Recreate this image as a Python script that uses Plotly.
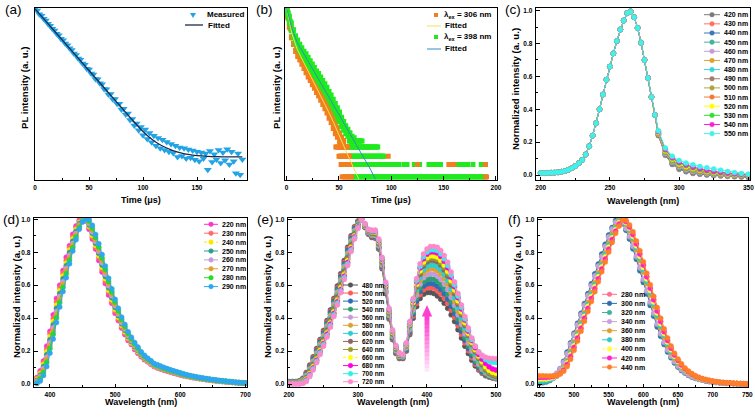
import numpy as np
import plotly.graph_objects as go

W, H = 755, 419
FONT = "Liberation Sans"

# ================= DATA =================
# (a) PL decay, measured and fitted (normalised log-intensity, arbitrary units)
a_t = list(range(0, 193, 2))
a_measured = [1.0, 0.99, 0.968, 0.96, 0.942, 0.932, 0.913, 0.902, 0.884, 0.874, 0.855, 0.846, 0.826, 0.817,
              0.797, 0.788, 0.77, 0.759, 0.739, 0.731, 0.71, 0.703, 0.681, 0.673, 0.65, 0.645, 0.622, 0.616,
              0.59, 0.588, 0.565, 0.56, 0.532, 0.53, 0.5, 0.503, 0.472, 0.474, 0.445, 0.446, 0.412, 0.416,
              0.383, 0.388, 0.35, 0.356, 0.318, 0.33, 0.29, 0.31, 0.262, 0.295, 0.24, 0.275, 0.22, 0.258,
              0.2, 0.245, 0.185, 0.235, 0.175, 0.222, 0.165, 0.21, 0.158, 0.2, 0.135, 0.19, 0.14, 0.185,
              0.125, 0.178, 0.13, 0.172, 0.118, 0.165, 0.11, 0.16, 0.125, 0.155, 0.06, 0.17, 0.105, 0.15,
              0.12, 0.175, 0.1, 0.16, 0.115, 0.18, 0.09, 0.165, 0.11, 0.04, 0.155, 0.03, 0.12]
a_fit_t = [0, 10, 20, 30, 40, 50, 60, 70, 80, 85, 90, 95, 100, 105, 110, 115, 120, 125, 130, 135, 140,
           145, 150, 160, 170, 180, 192]
a_fit = [1.0, 0.928, 0.856, 0.784, 0.712, 0.64, 0.568, 0.496, 0.424, 0.388, 0.352, 0.317, 0.283, 0.254,
         0.229, 0.209, 0.193, 0.179, 0.167, 0.158, 0.151, 0.146, 0.142, 0.138, 0.136, 0.135, 0.135]

# (b) PL decays at two excitation wavelengths
b_t306 = list(range(0, 55))
b_y306 = [0.99, 0.95, 0.94, 0.89, 0.88, 0.83, 0.83, 0.79, 0.79, 0.75, 0.76, 0.72, 0.735, 0.70, 0.71, 0.675,
          0.69, 0.65, 0.665, 0.625, 0.64, 0.60, 0.62, 0.58, 0.60, 0.555, 0.575, 0.535, 0.555, 0.51, 0.535,
          0.49, 0.51, 0.465, 0.49, 0.44, 0.465, 0.415, 0.44, 0.39, 0.415, 0.36, 0.39, 0.335, 0.36, 0.30,
          0.33, 0.27, 0.30, 0.25, 0.27, 0.225, 0.245, 0.19, 0.225]
b_t398 = list(range(0, 65))
b_y398 = [0.99, 0.97, 0.95, 0.92, 0.91, 0.87, 0.87, 0.83, 0.835, 0.80, 0.81, 0.775, 0.785, 0.75, 0.765,
          0.73, 0.745, 0.71, 0.73, 0.69, 0.71, 0.67, 0.69, 0.65, 0.67, 0.63, 0.65, 0.61, 0.63, 0.59, 0.615,
          0.57, 0.595, 0.55, 0.575, 0.53, 0.555, 0.51, 0.535, 0.49, 0.51, 0.465, 0.49, 0.44, 0.465, 0.415,
          0.44, 0.39, 0.415, 0.36, 0.39, 0.34, 0.36, 0.31, 0.335, 0.29, 0.31, 0.27, 0.29, 0.255, 0.27,
          0.235, 0.25, 0.225, 0.24]
# low-count rows: (level, [(t_start, t_end), ...])
b_rows306 = [(0.19, [(47, 58)]), (0.135, [(50, 60), (97, 97)]),
             (0.088, [(52, 61), (125, 125), (155, 160), (190, 190)]), (0.014, [(53, 62), (190, 191)])]
b_rows398 = [(0.225, [(60, 72)]), (0.19, [(58, 82), (84, 87)]), (0.135, [(58, 93)]),
             (0.088, [(56, 107), (112, 115), (122, 127), (136, 147), (157, 166), (170, 173), (178, 178),
                      (186, 190)]),
             (0.014, [(62, 190)])]
b_fit306_t = [0, 2, 5, 10, 15, 20, 25, 30, 35, 40, 45, 50, 55, 60, 65, 69]
b_fit306 = [1.0, 0.93, 0.85, 0.76, 0.70, 0.64, 0.58, 0.52, 0.46, 0.395, 0.33, 0.265, 0.19, 0.12, 0.055, 0.0]
b_fit398_t = [0, 2, 5, 10, 15, 20, 30, 40, 50, 60, 70, 80, 85]
b_fit398 = [1.0, 0.95, 0.88, 0.80, 0.745, 0.695, 0.59, 0.485, 0.38, 0.275, 0.17, 0.06, 0.0]

# (c) excitation spectra (percent), shared peak body + series-specific tails
c_x_body = list(np.arange(200, 283, 2.5))
c_body = [1.2, 1.2, 1.3, 1.4, 1.5, 1.7, 2, 2.5, 3.2, 4.2, 5.5, 7.2, 9.2, 12.5, 17.5, 24, 31.5, 40, 49, 58,
          66, 74, 81.5, 88.5, 94, 98.5, 99.5, 96, 89.5, 80.5, 70, 59, 47.5, 36.5]
c_x_tail = list(range(285, 351, 5))
c_labels = ["420 nm", "430 nm", "440 nm", "450 nm", "460 nm", "470 nm", "480 nm", "490 nm", "500 nm",
            "510 nm", "520 nm", "530 nm", "540 nm", "550 nm"]
c_tails = [
    [24, 12, 6.5, 3.5, 2, 1, 0.5, 0, -0.3, -0.5, -0.8, -1, -1.2, -1.5],
    [24.5, 12.5, 7, 4, 2.3, 1.3, 0.7, 0.3, 0, -0.2, -0.5, -0.7, -0.9, -1.1],
    [24.5, 12.8, 7.3, 4.3, 2.6, 1.6, 1, 0.5, 0.2, 0, -0.2, -0.4, -0.6, -0.8],
    [25, 13, 7.6, 4.6, 2.9, 1.9, 1.2, 0.7, 0.4, 0.2, 0, -0.2, -0.4, -0.5],
    [25, 13.2, 7.9, 5, 3.3, 2.2, 1.5, 1, 0.6, 0.3, 0.1, 0, -0.2, -0.3],
    [25, 13.5, 8.2, 5.3, 3.6, 2.5, 1.7, 1.1, 0.7, 0.4, 0.2, 0, -0.1, -0.2],
    [25.5, 13.7, 8.5, 5.6, 3.9, 2.8, 2, 1.4, 0.9, 0.6, 0.3, 0.1, 0, -0.1],
    [25.5, 14, 8.8, 5.9, 4.2, 3, 2.2, 1.6, 1.1, 0.7, 0.4, 0.2, 0.1, 0],
    [25.5, 14.2, 9.1, 6.2, 4.5, 3.3, 2.4, 1.8, 1.3, 0.9, 0.6, 0.3, 0.1, 0],
    [26, 14.5, 9.4, 6.5, 4.8, 3.6, 2.7, 2, 1.4, 1, 0.7, 0.4, 0.2, 0.1],
    [26, 14.8, 9.8, 6.8, 5.1, 3.9, 3, 2.2, 1.6, 1.1, 0.7, 0.4, 0.2, 0.1],
    [26.5, 15.2, 10.2, 7.3, 5.6, 4.3, 3.3, 2.5, 1.8, 1.3, 0.9, 0.6, 0.3, 0.1],
    [26.5, 15.7, 10.7, 7.8, 6.2, 4.9, 3.9, 3, 2.3, 1.7, 1.2, 0.8, 0.5, 0.2],
    [27, 16.5, 11.5, 8.8, 7.3, 6.2, 5.2, 4.5, 3.7, 3, 2.2, 1.5, 1, 0.5],
]
c_colors = ["#7a7a7a", "#ff7160", "#3b78b8", "#46b39c", "#c69bd9", "#e0a12c", "#36d6e0", "#a27d74",
            "#b3a443", "#f07a34", "#ffff00", "#2fe02f", "#ff20cf", "#3ff2ea"]

# (d) emission spectra (percent)
d_x = list(range(380, 701, 5))
d_labels = ["220 nm", "230 nm", "240 nm", "250 nm", "260 nm", "270 nm", "280 nm", "290 nm"]
d_series = [
    [4, 8, 14, 23, 32, 42, 52, 60, 69, 77, 84, 91, 96, 99.5, 100, 99, 94, 88, 82, 75, 68, 61, 54, 49, 43,
     38.5, 34, 30, 26.5, 24, 21, 18.7, 16.6, 14.8, 13.5, 12, 10.6,
     9.8, 9.1, 8.4, 7.8, 7.2, 6.6, 6.1, 5.5, 5.0, 4.6, 4.2, 3.8, 3.5, 3.2, 2.9, 2.6, 2.4, 2.1, 1.9, 1.7,
     1.5, 1.3, 1.1, 1.0, 0.8, 0.7, 0.5, 0.4],
    [3.5, 7, 13, 21, 30.5, 39.8, 49.8, 58.5, 67.3, 75, 82.8, 89.3, 94.8, 98.9, 100, 99.4, 95, 89.3, 83,
     76.8, 69.5, 62.5, 55.8, 50, 44.3, 39.5, 34.8, 31, 27.3, 24.5, 21.6, 19.3, 17, 15.1, 13.8, 12.3, 10.9,
     10.1, 9.4, 8.7, 8.0, 7.4, 6.8, 6.3, 5.7, 5.2, 4.8, 4.4, 4.0, 3.6, 3.3, 3.0, 2.7, 2.5, 2.2, 2.0, 1.8,
     1.6, 1.4, 1.2, 1.0, 0.9, 0.7, 0.6, 0.5],
    [2.9, 6.2, 11.8, 19.4, 28.7, 37.9, 47.9, 56.7, 65.6, 73.4, 81.3, 88, 93.7, 98.1, 100, 99.6, 95.8, 90.4,
     84.2, 78, 70.9, 63.9, 57, 51.2, 45.4, 40.5, 35.7, 31.8, 28, 25.1, 22.2, 19.8, 17.4, 15.5, 14.1, 12.6,
     11.1, 10.4, 9.6, 8.9, 8.2, 7.6, 7.0, 6.4, 5.9, 5.4, 4.9, 4.5, 4.1, 3.7, 3.4, 3.1, 2.8, 2.5, 2.3, 2.0,
     1.8, 1.6, 1.4, 1.2, 1.1, 0.9, 0.8, 0.6, 0.5],
    [2.3, 5.4, 10.6, 17.8, 26.9, 36, 46, 54.9, 63.9, 71.8, 79.8, 86.7, 92.6, 97.4, 99.7, 100, 96.6, 91.5,
     85.4, 79.4, 72.3, 65.3, 58.4, 52.4, 46.5, 41.5, 36.6, 32.6, 28.7, 25.7, 22.7, 20.3, 17.8, 15.8, 14.4,
     12.9, 11.4, 10.6, 9.8, 9.1, 8.4, 7.8, 7.2, 6.6, 6.0, 5.5, 5.0, 4.6, 4.2, 3.8, 3.5, 3.2, 2.9, 2.6, 2.4,
     2.1, 1.9, 1.7, 1.5, 1.3, 1.1, 0.9, 0.8, 0.6, 0.5],
    [1.7, 4.6, 9.4, 16.2, 25.1, 34, 44, 53.1, 62.1, 70.2, 78.2, 85.3, 91.4, 96.6, 99.3, 100, 97.4, 92.5,
     86.6, 80.6, 73.7, 66.7, 59.6, 53.6, 47.5, 42.5, 37.4, 33.4, 29.3, 26.3, 23.3, 20.7, 18.2, 16.2, 14.6,
     13.1, 11.6, 10.8, 10.0, 9.3, 8.6, 7.9, 7.3, 6.7, 6.1, 5.6, 5.1, 4.7, 4.3, 3.9, 3.6, 3.3, 3.0, 2.7,
     2.4, 2.2, 1.9, 1.7, 1.5, 1.3, 1.1, 1.0, 0.8, 0.7, 0.5],
    [1.1, 3.8, 8.2, 14.6, 23.3, 32.1, 42.1, 51.3, 60.4, 68.6, 76.7, 84, 90.4, 95.9, 99, 100, 98.2, 93.6,
     87.8, 82, 75.1, 68.1, 61, 54.8, 48.6, 43.5, 38.4, 34.2, 30, 26.9, 23.8, 21.3, 18.6, 16.5, 15, 13.5,
     11.9, 11.1, 10.2, 9.5, 8.8, 8.1, 7.5, 6.9, 6.3, 5.8, 5.3, 4.8, 4.4, 4.0, 3.7, 3.4, 3.1, 2.8, 2.5, 2.3,
     2.0, 1.8, 1.6, 1.4, 1.2, 1.0, 0.9, 0.7, 0.6],
    [0.5, 3, 7, 13, 21.5, 30.2, 40.2, 49.5, 58.7, 67, 75.2, 82.7, 89.2, 95.1, 98.7, 100, 99, 94.7, 89, 83.2,
     76.5, 69.5, 62.3, 56, 49.8, 44.5, 39.3, 35, 30.8, 27.5, 24.4, 21.8, 19, 16.9, 15.3, 13.8, 12.1,
     11.3, 10.5, 9.7, 9.0, 8.3, 7.7, 7.1, 6.5, 5.9, 5.4, 5.0, 4.5, 4.1, 3.8, 3.5, 3.2, 2.9, 2.6, 2.3, 2.1,
     1.9, 1.7, 1.5, 1.3, 1.1, 0.9, 0.8, 0.6],
    [0.5, 1.8, 5.2, 10.6, 18.8, 27.4, 37.4, 46.8, 56.2, 64.6, 73, 80.8, 87.6, 94, 98.3, 99.7, 100, 96.4,
     90.8, 85.2, 78.6, 71.6, 64.2, 57.8, 51.4, 46, 40.6, 36.2, 31.8, 28.4, 25.2, 22.5, 19.6, 17.4, 15.7,
     14.2, 12.5, 11.7, 10.9, 10.1, 9.4, 8.7, 8.0, 7.4, 6.8, 6.2, 5.7, 5.2, 4.8, 4.4, 4.0, 3.6, 3.3, 3.0,
     2.7, 2.5, 2.2, 2.0, 1.8, 1.5, 1.3, 1.1, 1.0, 0.8, 0.7],
]
d_colors = ["#ff33cc", "#ff6a6a", "#ffe600", "#2e9e8a", "#c59ddf", "#e0a030", "#22dd22", "#2ea6f0"]
d_dash = ["solid", "solid", "dot", "solid", "solid", "solid", "dash", "solid"]

# (e) excitation spectra (percent)
e_x = list(range(200, 501, 5))
e_labels = ["480 nm", "500 nm", "520 nm", "540 nm", "560 nm", "580 nm", "600 nm", "620 nm", "640 nm",
            "660 nm", "680 nm", "700 nm", "720 nm"]
e_series = [
    [1.5, 1.5, 1.5, 2, 3.5, 7, 11.5, 16.5, 21.5, 27, 32.5, 38.5, 45, 52, 59.5, 67, 75, 83, 90, 95.5, 99, 100,
     95, 91, 89, 88.5, 82, 70, 55, 39.5, 27, 18.5, 15.5,
     15.5, 20, 30, 40, 47, 52, 54.5, 55.5, 55.5, 55, 53.5, 51.5, 49, 46, 42, 38, 33, 28, 23, 18.5, 14.5,
     11, 8.5, 6.5, 5, 4.2, 3.6, 3.2],
    [1.4, 1.4, 1.4, 1.8, 3.2, 6.5, 10.9, 15.8, 20.8, 26.3, 31.7, 37.7, 44.1, 51.1, 58.5, 66, 74, 82.1, 89.2,
     94.9, 98.6, 100, 95.2, 91.3, 89.4, 88.9, 82.5, 70.6, 55.6, 40, 27.5, 18.9, 15.8,
     15.8, 20.6, 30.9, 41.3, 48.9, 54.3, 57.2, 58.4, 58.6, 58.1, 56.7, 54.7, 52.2, 49.1, 44.9, 40.6, 35.4,
     30.2, 25, 20.2, 16, 12, 9, 7, 5.5, 4.5, 3.8, 3.3],
    [1.3, 1.3, 1.3, 1.7, 3, 6.1, 10.3, 15.2, 20.1, 25.5, 30.9, 36.8, 43.3, 50.2, 57.6, 65.1, 73.1, 81.2,
     88.4, 94.3, 98.3, 100, 95.4, 91.5, 89.8, 89.3, 83, 71.2, 56.2, 40.6, 28, 19.3, 16.1,
     16, 21, 31.6, 42.4, 50.4, 56.2, 59.4, 60.8, 61.1, 60.7, 59.4, 57.4, 54.8, 51.6, 47.2, 42.8, 37.4, 32,
     26.6, 21.6, 17.2, 13, 10, 7.5, 5.8, 4.7, 4, 3.5],
    [1.1, 1.1, 1.1, 1.5, 2.7, 5.6, 9.8, 14.5, 19.4, 24.8, 30.1, 36, 42.4, 49.3, 56.6, 64.1, 72.1, 80.3, 87.6,
     93.6, 97.9, 100, 95.6, 91.8, 90.1, 89.8, 83.5, 71.8, 56.8, 41.1, 28.5, 19.8, 16.4,
     16.3, 21.5, 32.4, 43.6, 52.1, 58.3, 61.9, 63.5, 63.9, 63.6, 62.4, 60.4, 57.7, 54.4, 49.8, 45.2, 39.6,
     34, 28.4, 23.2, 18.6, 14, 11, 8.2, 6.3, 5, 4.2, 3.7],
    [1, 1, 1, 1.3, 2.4, 5.2, 9.2, 13.8, 18.7, 24, 29.3, 35.2, 41.5, 48.3, 55.7, 63.2, 71.2, 79.3, 86.8, 93,
     97.5, 100, 95.8, 92, 90.5, 90.2, 84, 72.3, 57.3, 41.7, 29, 20.2, 16.7,
     16.5, 22, 33.3, 44.9, 54, 60.6, 64.5, 66.4, 67, 66.7, 65.6, 63.6, 60.9, 57.5, 52.7, 47.8, 42, 36.2,
     30.4, 24.9, 20, 15.5, 12, 9, 6.8, 5.4, 4.4, 3.8],
    [0.9, 0.9, 0.9, 1.2, 2.2, 4.7, 8.6, 13.2, 18, 23.3, 28.5, 34.3, 40.6, 47.4, 54.7, 62.2, 70.2, 78.4, 86,
     92.4, 97.1, 100, 96, 92.3, 90.9, 90.6, 84.5, 72.9, 57.9, 42.2, 29.5, 20.6, 17,
     16.8, 22.6, 34.2, 46.2, 55.8, 62.9, 67.2, 69.3, 70.1, 69.8, 68.8, 66.8, 64.1, 60.6, 55.5, 50.5, 44.4,
     38.4, 32.4, 26.6, 21.5, 17, 13, 9.8, 7.3, 5.7, 4.7, 4],
    [0.8, 0.8, 0.8, 1, 1.9, 4.3, 8, 12.5, 17.3, 22.5, 27.8, 33.5, 39.8, 46.5, 53.8, 61.3, 69.3, 77.5, 85.3,
     91.8, 96.8, 100, 96.3, 92.5, 91.3, 91, 85, 73.5, 58.5, 42.8, 30, 21, 17.3,
     17, 23, 34.8, 47.2, 57.2, 64.6, 69.2, 71.4, 72.3, 72.1, 71.2, 69.2, 66.4, 62.8, 57.6, 52.4, 46.2, 40,
     33.8, 27.8, 22.6, 18, 14, 10.5, 7.8, 6, 4.9, 4.2],
    [0.6, 0.6, 0.6, 0.8, 1.6, 3.8, 7.4, 11.8, 16.5, 21.8, 27, 32.7, 38.9, 45.6, 52.8, 60.3, 68.3, 76.6,
     84.5, 91.1, 96.4, 100, 96.5, 92.8, 91.6, 91.4, 85.5, 74.1, 59.1, 43.3, 30.5, 21.4, 17.5,
     17.3, 23.5, 35.6, 48.4, 58.9, 66.7, 71.7, 74.1, 75.1, 75, 74.2, 72.2, 69.3, 65.6, 60.2, 54.8, 48.4,
     42, 35.6, 29.4, 24, 19.5, 15.5, 11.7, 8.6, 6.5, 5.3, 4.6],
    [0.5, 0.5, 0.5, 0.7, 1.4, 3.3, 6.8, 11.2, 15.8, 21, 26.2, 31.8, 38, 44.7, 51.8, 59.3, 67.3, 75.7, 83.7,
     90.5, 96, 100, 96.7, 93, 92, 91.8, 86, 74.7, 59.7, 43.8, 31, 21.8, 17.8,
     17.4, 23.8, 36, 49, 59.8, 67.8, 72.9, 75.4, 76.5, 76.4, 75.6, 73.6, 70.8, 67, 61.5, 56, 49.5, 43,
     36.5, 30.1, 24.6, 20, 16, 12.3, 9.2, 7, 5.7, 5],
    [0.4, 0.4, 0.4, 0.5, 1.1, 2.9, 6.3, 10.5, 15.1, 20.3, 25.4, 31, 37.1, 43.8, 50.9, 58.4, 66.4, 74.8,
     82.9, 89.9, 95.6, 100, 96.9, 93.3, 92.4, 92.3, 86.5, 75.3, 60.3, 44.4, 31.5, 22.3, 18.1,
     17.5, 24, 36.4, 49.6, 60.6, 68.8, 74.1, 76.7, 77.9, 77.8, 77.1, 75.1, 72.2, 68.4, 62.8, 57.2, 50.6,
     44, 37.4, 30.9, 25.3, 21, 17, 13.5, 10.5, 8.4, 7.2, 6.5],
    [0.3, 0.3, 0.3, 0.3, 0.8, 2.4, 5.7, 9.8, 14.4, 19.5, 24.6, 30.2, 36.3, 42.8, 49.9, 57.4, 65.4, 73.8,
     82.1, 89.3, 95.3, 100, 97.1, 93.5, 92.8, 92.7, 87, 75.8, 60.8, 44.9, 32, 22.7, 18.4,
     17.7, 24.4, 37, 50.6, 62, 70.5, 76, 78.8, 80.1, 80.1, 79.5, 77.5, 74.5, 70.6, 64.9, 59.1, 52.4, 45.6,
     38.8, 32.1, 26.4, 22, 18, 15, 12.5, 10.5, 9.2, 8.5],
    [0.1, 0.1, 0.1, 0.2, 0.6, 2, 5.1, 9.2, 13.7, 18.8, 23.8, 29.3, 35.4, 41.9, 49, 56.5, 64.5, 72.9, 81.3,
     88.6, 94.9, 100, 97.3, 93.8, 93.1, 93.1, 87.5, 76.4, 61.4, 45.5, 32.5, 23.1, 18.7,
     17.8, 24.7, 37.4, 51.2, 62.8, 71.5, 77.3, 80.1, 81.5, 81.5, 81, 79, 76, 72, 66.2, 60.3, 53.5, 46.6,
     39.7, 32.9, 27.1, 23, 19.5, 17, 15, 13.8, 13.2, 13],
    [0, 0, 0, 0, 0.3, 1.5, 4.5, 8.5, 13, 18, 23, 28.5, 34.5, 41, 48, 55.5, 63.5, 72, 80.5, 88, 94.5, 100,
     97.5, 94, 93.5, 93.5, 88, 77, 62, 46, 33, 23.5, 19,
     18, 25, 38, 52, 64, 73, 79, 82, 83.5, 83.5, 83, 81, 78, 74, 68, 62, 55, 48, 41, 34, 28,
     23, 19.5, 17.5, 16.3, 15.7, 15.5, 15.3],
]
e_colors = ["#555555", "#ff5a5a", "#2a6fb5", "#2e9e70", "#c49adb", "#e0a030", "#2bcfd0", "#8c6460",
            "#9c9a2e", "#ffff00", "#ff00dd", "#2ef0e8", "#ff88cc"]
e_dash = ["solid"] * 9 + ["dot", "solid", "solid", "solid"]

# (f) emission spectra (percent)
f_x = list(range(450, 751, 5))
f_labels = ["280 nm", "300 nm", "320 nm", "340 nm", "360 nm", "380 nm", "400 nm", "420 nm", "440 nm"]
f_series = [
    [1, 1.2, 1.8, 2.5, 4, 6.1, 9.1, 13.5, 18.9, 24.4, 30.3, 36.3, 42.3, 48.3, 54.3, 60.3, 66.3, 72.3, 78.3,
     84.3, 89.9, 94.6, 98.8, 99.9, 97.5, 93.8, 88.6, 82.7, 76.3, 69.4, 62.4, 55.4, 48.4, 41.8, 35.3, 29.6,
     24.5, 19.9, 16.2, 13.1, 10.5, 8.4, 6.8, 5.5, 4.4, 3.6, 2.9, 2.4, 2, 1.6, 1.3, 1, 0.8, 0.6, 0.5, 0.4,
     0.3, 0.2, 0.1, 0, 0],
    [0.5, 0.8, 1.3, 2.1, 3.8, 6, 9.3, 13.8, 19.4, 25, 30.9, 36.9, 42.9, 48.9, 54.9, 60.9, 66.9, 72.9, 78.9,
     84.9, 90.5, 95, 99.3, 99.7, 97.3, 93.4, 88, 82.1, 75.7, 68.7, 61.7, 54.7, 47.7, 41.2, 34.7, 29, 24,
     19.5, 15.9, 12.8, 10.3, 8.2, 6.7, 5.3, 4.3, 3.5, 2.9, 2.4, 1.9, 1.5, 1.2, 1, 0.8, 0.6, 0.5, 0.4, 0.3,
     0.2, 0.1, 0.1, 0],
    [1, 1.2, 1.7, 2.4, 3.9, 5.9, 8.8, 13, 18.3, 23.9, 29.7, 35.7, 41.7, 47.7, 53.7, 59.7, 65.7, 71.7, 77.7,
     83.7, 89.4, 94.2, 98.4, 99.8, 97.8, 94.2, 89.2, 83.3, 77, 70.1, 63.1, 56.1, 49.1, 42.5, 36, 30.2, 25,
     20.4, 16.6, 13.4, 10.8, 8.6, 7, 5.6, 4.5, 3.6, 3, 2.5, 2, 1.6, 1.3, 1, 0.9, 0.7, 0.5, 0.4, 0.3, 0.2,
     0.1, 0.1, 0],
    [2.5, 2.7, 3.1, 3.7, 4.9, 6.7, 9.3, 13.2, 18.4, 24.3, 30.1, 36, 42, 47.9, 53.8, 59.7, 65.6, 71.6, 77.5,
     83.5, 89.2, 94, 98.2, 99.7, 98, 94.5, 89.6, 83.8, 77.6, 70.8, 63.8, 56.8, 49.8, 43.1, 36.6, 30.7, 25.5,
     20.8, 17, 13.7, 11, 8.8, 7.1, 5.7, 4.6, 3.7, 3, 2.5, 2.1, 1.7, 1.3, 1.1, 0.9, 0.7, 0.5, 0.4, 0.3, 0.2,
     0.1, 0.1, 0],
    [2.5, 2.5, 2.8, 3.2, 3.9, 5.3, 7.2, 10.1, 14.5, 20, 25.5, 31.5, 37.5, 43.5, 49.5, 55.5, 61.5, 67.5,
     73.5, 79.5, 85.5, 91, 95.5, 99.6, 99.6, 97, 93, 87.5, 81.5, 75, 68, 61, 54, 47, 40.5, 34, 28.5, 23.5,
     19, 15.5, 12.5, 10, 8, 6.5, 5.2, 4.2, 3.4, 2.8, 2.3, 1.9, 1.5, 1.2, 1, 0.8, 0.6, 0.5, 0.4, 0.3, 0.2,
     0.1, 0],
    [2, 2, 2.2, 2.7, 3.4, 4.7, 6.6, 9.4, 13.6, 18.9, 24.4, 30.3, 36.3, 42.3, 48.3, 54.3, 60.3, 66.3, 72.3,
     78.3, 84.3, 89.9, 94.6, 98.8, 99.8, 97.5, 93.8, 88.6, 82.7, 76.3, 69.4, 62.4, 55.4, 48.4, 41.8, 35.3,
     29.6, 24.5, 19.9, 16.2, 13.1, 10.5, 8.4, 6.8, 5.5, 4.4, 3.6, 2.9, 2.4, 2, 1.6, 1.3, 1, 0.8, 0.6, 0.5,
     0.4, 0.3, 0.2, 0.1, 0],
    [3, 3, 3.1, 3.5, 3.9, 4.9, 6.5, 9, 12.8, 17.8, 23.3, 29.1, 35.1, 41.1, 47.1, 53.1, 59.1, 65.1, 71.1,
     77.1, 83.1, 88.8, 93.7, 98, 100, 98, 94.6, 89.7, 83.9, 77.6, 70.8, 63.8, 56.8, 49.8, 43.1, 36.6, 30.7,
     25.5, 20.8, 16.9, 13.7, 11, 8.8, 7.1, 5.7, 4.6, 3.7, 3, 2.5, 2.1, 1.7, 1.3, 1.1, 0.9, 0.7, 0.5, 0.4,
     0.3, 0.2, 0.1, 0],
    [4, 4, 4, 4.2, 4.5, 5.1, 6.4, 8.5, 11.9, 16.7, 22.2, 27.9, 33.9, 39.9, 45.9, 51.9, 57.9, 63.9, 69.9,
     75.9, 81.9, 87.7, 92.8, 97.1, 99.9, 98.6, 95.4, 90.8, 85.1, 78.9, 72.2, 65.2, 58.2, 51.2, 44.4, 37.9,
     31.8, 26.5, 21.7, 17.6, 14.3, 11.5, 9.2, 7.4, 6, 4.8, 3.9, 3.2, 2.6, 2.1, 1.7, 1.4, 1.1, 0.9, 0.7,
     0.6, 0.4, 0.3, 0.2, 0.1, 0],
    [5, 5, 4.9, 4.9, 5, 5.2, 6.1, 7.8, 10.6, 15, 20.5, 26.1, 32.1, 38.1, 44.1, 50.1, 56.1, 62.1, 68.1,
     74.1, 80.1, 86, 91.5, 95.9, 99.7, 99.5, 96.6, 92.5, 86.9, 80.9, 74.3, 67.3, 60.3, 53.3, 46.4, 39.9,
     33.5, 28, 23.1, 18.7, 15.2, 12.3, 9.8, 7.9, 6.4, 5.1, 4.1, 3.3, 2.8, 2.3, 1.9, 1.5, 1.2, 1, 0.8, 0.6,
     0.5, 0.4, 0.3, 0.2, 0.1],
]
f_colors = ["#ff6f8f", "#2f6fb0", "#3cb3a0", "#c8a0dc", "#e0a030", "#2ec9c0", "#ffff33", "#ff22cc",
            "#ff7f27"]
f_dash = ["solid", "solid", "dash", "solid", "solid", "dash", "dot", "solid", "solid"]

# ================= LAYOUT HELPERS =================
def X(p):
    return p / W


def Y(p):
    return 1 - p / H


panels = {
    "a": dict(n="", x=(35, 247), y=(8, 180)),
    "b": dict(n="2", x=(285, 497), y=(8, 179.5)),
    "c": dict(n="3", x=(536, 750), y=(8, 180)),
    "d": dict(n="4", x=(34, 247), y=(218, 387)),
    "e": dict(n="5", x=(288, 497), y=(218, 387)),
    "f": dict(n="6", x=(538, 748), y=(218, 387)),
}

tickfont = dict(family=FONT, size=6.5, color="black", weight="bold")


def axis(rng, **kw):
    d = dict(range=rng, showline=True, linecolor="black", linewidth=1.3, mirror=True, automargin=False,
             ticks="inside", ticklen=3.5, tickwidth=1, tickcolor="black", showgrid=False, zeroline=False,
             tickfont=tickfont, ticklabelstandoff=1)
    d.update(kw)
    return d


fig = go.Figure()
layout = {}


def set_axes(key, xr, yr, xkw, ykw):
    p = panels[key]
    n = p["n"]
    xd = [X(p["x"][0]), X(p["x"][1])]
    yd = [Y(p["y"][1]), Y(p["y"][0])]
    layout["xaxis" + n] = axis(xr, domain=xd, anchor="y" + n, **xkw)
    layout["yaxis" + n] = axis(yr, domain=yd, anchor="x" + n, **ykw)


def minor_x(dt):
    return dict(ticks="inside", ticklen=2, tickwidth=1, tickcolor="black", dtick=dt)


ynorm = dict(tick0=0, dtick=0.2, tickformat=".1f",
             minor=dict(ticks="inside", ticklen=2, tickwidth=1, tickcolor="black", dtick=0.1))
yhidden = dict(showticklabels=False, ticks="")

set_axes("a", [0, 196.3], [0, 1.005], dict(tick0=0, dtick=50, minor=minor_x(25)), yhidden)
set_axes("b", [-1.6, 201], [0, 1.0], dict(tick0=0, dtick=50, minor=minor_x(25)), yhidden)
set_axes("c", [196.6, 351.2], [-0.03, 1.016], dict(tick0=200, dtick=50, minor=minor_x(25)), ynorm)
set_axes("d", [375.5, 702.5], [-0.018, 1.008], dict(tick0=400, dtick=100, minor=minor_x(50)), ynorm)
set_axes("e", [198.5, 501.5], [-0.018, 1.008], dict(tick0=200, dtick=100, minor=minor_x(50)), ynorm)
set_axes("f", [448, 751], [-0.018, 1.008], dict(tick0=450, dtick=50, minor=minor_x(25)), ynorm)


def refs(key):
    n = panels[key]["n"]
    return dict(xaxis="x" + n, yaxis="y" + n)


# ================= TRACES =================
# (a)
fig.add_trace(go.Scatter(x=a_t, y=a_measured, mode="markers", showlegend=False,
                         marker=dict(symbol="triangle-down", size=7, color="#22a3e6", line=dict(width=0)),
                         **refs("a")))
fig.add_trace(go.Scatter(x=a_fit_t, y=a_fit, mode="lines", showlegend=False, line_shape="spline",
                         line=dict(color="#1c2a48", width=1.3), **refs("a")))

# (b)
C306, C398 = "#f27f1f", "#1fea1f"
fig.add_trace(go.Scatter(x=b_t306, y=b_y306, mode="markers", showlegend=False,
                         marker=dict(symbol="square", size=6, color=C306, line=dict(width=0)), **refs("b")))
fig.add_trace(go.Scatter(x=b_t398, y=b_y398, mode="markers", showlegend=False,
                         marker=dict(symbol="square", size=6, color=C398, line=dict(width=0)), **refs("b")))


def expand_rows(rows):
    xs, ys = [], []
    for level, segs in rows:
        for s, e in segs:
            for t in range(s, e + 1):
                xs.append(t)
                ys.append(level)
    return xs, ys


gx, gy = expand_rows(b_rows398)
fig.add_trace(go.Scatter(x=gx, y=gy, mode="markers", showlegend=False,
                         marker=dict(symbol="square", size=5, color=C398, line=dict(width=0)), **refs("b")))
ox, oy = expand_rows(b_rows306)
fig.add_trace(go.Scatter(x=ox, y=oy, mode="markers", showlegend=False,
                         marker=dict(symbol="square", size=5, color=C306, line=dict(width=0)), **refs("b")))
fig.add_trace(go.Scatter(x=b_fit306_t, y=b_fit306, mode="lines", showlegend=False,
                         line=dict(color="#f3e34a", width=1), **refs("b")))
fig.add_trace(go.Scatter(x=b_fit398_t, y=b_fit398, mode="lines", showlegend=False,
                         line=dict(color="#2e8fc4", width=1), **refs("b")))


def spectra(key, xs_list, ys_list, colors, dashes):
    for xs, ys, col, dsh in zip(xs_list, ys_list, colors, dashes):
        fig.add_trace(go.Scatter(x=xs, y=[v / 100 for v in ys], mode="lines+markers", showlegend=False,
                                 line=dict(color=col, width=1, dash=dsh),
                                 marker=dict(symbol="circle", size=5, color=col,
                                             line=dict(color=col, width=0.5)),
                                 **refs(key)))


c_x = c_x_body + c_x_tail
spectra("c", [c_x] * len(c_tails), [c_body + t for t in c_tails], c_colors, ["solid"] * 14)
spectra("d", [d_x] * len(d_series), d_series, d_colors, d_dash)
spectra("e", [e_x] * len(e_series), e_series, e_colors, e_dash)
spectra("f", [f_x] * len(f_series), f_series, f_colors, f_dash)

# ================= ANNOTATIONS / SHAPES =================
annotations = []
shapes = []


def text(s, x, y, size, bold=True, angle=0, xanchor="center"):
    f = dict(family=FONT, size=size, color="black")
    if bold:
        f["weight"] = "bold"
    annotations.append(dict(text=s, x=X(x), y=Y(y), xref="paper", yref="paper", showarrow=False,
                            xanchor=xanchor, yanchor="middle", textangle=angle, font=f))


# panel labels
for lab, (x, y) in {"(a)": (13, 9), "(b)": (264, 9), "(c)": (513, 9), "(d)": (11, 219), "(e)": (265, 219),
                    "(f)": (514, 219)}.items():
    text(lab, x, y, 13.5, bold=False)

# axis titles
XT, YT = 9, 9.6
text("Time (μs)", 141, 200, XT)
text("PL intensity (a. u.)", 24, 88, YT, angle=-90)
text("Time (μs)", 391, 200, XT)
text("PL intensity (a. u.)", 276, 88, YT, angle=-90)
text("Wavelength (nm)", 643, 201, XT)
text("Normalized intensity (a. u.)", 516, 89, YT, angle=-90)
for key, xc, yt in (("d", 140.5, 16), ("e", 392.5, 267), ("f", 643, 517)):
    text("Wavelength (nm)", xc, 402, XT)
    text("Normalized intensity (a. u.)", yt, 297, YT, angle=-90)


def circle(cx, cy, r, col):
    shapes.append(dict(type="circle", xref="paper", yref="paper", x0=X(cx - r), x1=X(cx + r),
                       y0=Y(cy + r), y1=Y(cy - r), fillcolor=col, line=dict(color=col, width=0.5)))


def hline(x0, x1, y, col, dash="solid", width=1):
    shapes.append(dict(type="line", xref="paper", yref="paper", x0=X(x0), x1=X(x1), y0=Y(y), y1=Y(y),
                       line=dict(color=col, width=width, dash=dash)))


def spec_legend(labels, colors, dashes, xl0, xl1, xt, y0, dy, size):
    for i, (lab, col, dsh) in enumerate(zip(labels, colors, dashes)):
        y = y0 + i * dy
        hline(xl0, xl1, y, col, dsh)
        circle((xl0 + xl1) / 2, y, 2.3, col)
        text(lab, xt, y, size, xanchor="left")


# (a) legend
shapes.append(dict(type="path", xref="paper", yref="paper",
                   path="M %f,%f L %f,%f L %f,%f Z" % (X(190), Y(13), X(196), Y(13), X(193), Y(18)),
                   fillcolor="#22a3e6", line=dict(width=0)))
text("Measured", 205, 15, 8, xanchor="left")
hline(185, 203, 25, "#1c2a48", width=1.3)
text("Fitted", 206, 25, 8, xanchor="left")

# (b) legend
for (y, col) in ((15, C306), (37, C398)):
    shapes.append(dict(type="rect", xref="paper", yref="paper", x0=X(434), x1=X(438), y0=Y(y + 2),
                       y1=Y(y - 2), fillcolor=col, line=dict(width=0)))
text("λ<sub>ex</sub> = 306 nm", 442, 15, 8, xanchor="left")
hline(427, 441, 26, "#f3e34a")
text("Fitted", 443, 26, 8, xanchor="left")
text("λ<sub>ex</sub> = 398 nm", 442, 37, 8, xanchor="left")
hline(427, 441, 49, "#2e8fc4")
text("Fitted", 443, 49, 8, xanchor="left")

spec_legend(c_labels, c_colors, ["solid"] * 14, 704, 720, 722, 14.7, 9.15, 7)
spec_legend(d_labels, d_colors, d_dash, 204, 218, 219.5, 224.3, 8.9, 7)
spec_legend(e_labels, e_colors, e_dash, 343, 358, 359.5, 285, 8.06, 6.5)
spec_legend(f_labels, f_colors, f_dash, 602, 617, 618.5, 294.3, 9.1, 7)

# (e) gradient arrow (data coordinates of panel e)
n_seg = 14
y_lo, y_hi = 0.075, 0.412
for i in range(n_seg):
    s0 = y_lo + (y_hi - y_lo) * i / n_seg
    s1 = y_lo + (y_hi - y_lo) * (i + 1) / n_seg
    shapes.append(dict(type="rect", xref="x5", yref="y5", x0=396.5, x1=403.5, y0=s0, y1=s1 + 0.002,
                       fillcolor="#ff3fcf", opacity=0.06 + 0.94 * (i + 1) / n_seg, line=dict(width=0),
                       layer="above"))
shapes.append(dict(type="path", xref="x5", yref="y5", path="M 392.5,0.41 L 407.5,0.41 L 400,0.48 Z",
                   fillcolor="#ff3fcf", line=dict(width=0), layer="above"))

fig.update_layout(width=W, height=H, margin=dict(l=0, r=0, t=0, b=0), paper_bgcolor="white",
                  plot_bgcolor="white", showlegend=False, annotations=annotations, shapes=shapes,
                  font=dict(family=FONT, color="black"), **layout)

fig.write_html("out.html", config={"displayModeBar": False, "staticPlot": True},
               post_script="document.body.style.margin='0px';document.body.style.padding='0px';"
                           "document.documentElement.style.overflow='hidden';")
